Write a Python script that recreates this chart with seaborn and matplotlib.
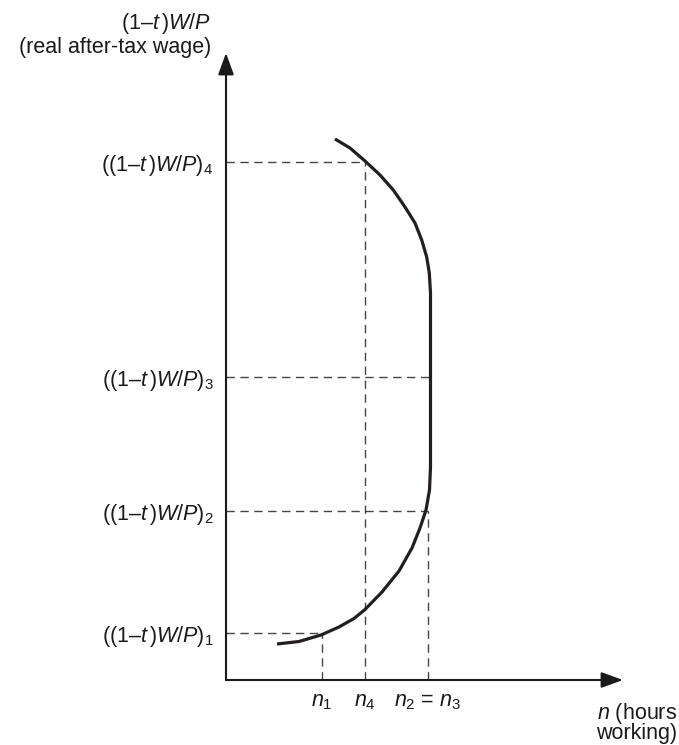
import numpy as np
import matplotlib.pyplot as plt
import seaborn as sns

sns.set_theme(style='white')
plt.rcParams['font.family'] = ['Liberation Sans', 'DejaVu Sans']
plt.rcParams['mathtext.fontset'] = 'custom'
plt.rcParams['mathtext.rm'] = 'Liberation Sans'
plt.rcParams['mathtext.it'] = 'Liberation Sans:italic'

#::: data (arbitrary units)
# labour supply curve: hours n vs real after-tax wage w
curve_n = [5.1, 7.3, 9.5, 11.3, 12.8, 13.9, 15.6, 17.3, 18.6, 19.4, 20.0, 20.35, 20.45,
           20.45, 20.33, 20.07, 19.57, 18.9, 17.9, 16.73, 15.4, 13.9, 12.4, 10.9]
curve_w = [3.6, 3.85, 4.5, 5.3, 6.15, 7.05, 8.8, 10.9, 13.2, 15.2, 17.0, 19.0, 21.3,
           38.7, 40.7, 42.3, 44.0, 45.7, 47.3, 49.0, 50.5, 51.9, 53.2, 54.1]

# marked points 1..4
point_n = [9.6, 20.2, 20.45, 13.9]
point_w = [4.7, 16.9, 30.3, 51.8]
wage_labels = [r'((1–$t\,$)$W/P$)$_1$', r'((1–$t\,$)$W/P$)$_2$',
               r'((1–$t\,$)$W/P$)$_3$', r'((1–$t\,$)$W/P$)$_4$']
hour_ticks = [9.6, 13.9, 20.2]
hour_labels = [r'$n_1$', r'$n_4$', r'$n_2$ = $n_3$']

FS = 15.5
INK = '#1a1a1a'

#::: figure
fig = plt.figure(figsize=(6.79, 7.45), dpi=100)
ax = fig.add_axes([226 / 679, 65 / 745, 397 / 679, 627 / 745])
ax.set_xlim(0, 39.7)
ax.set_ylim(0, 62.7)
for s in ax.spines.values():
    s.set_visible(False)

dash_kw = dict(color='#444444', lw=1.0, linestyles=(0, (6, 4)))
ax.hlines(point_w, 0, point_n, **dash_kw)
# point 3 sits on the vertical part of the curve (n3 = n2), no own drop line
drop = [0, 1, 3]
ax.vlines([point_n[i] for i in drop], 0, [point_w[i] for i in drop], **dash_kw)

sns.lineplot(x=curve_n, y=curve_w, sort=False, estimator=None, ax=ax,
             color='#231f20', lw=2.3, solid_capstyle='butt', solid_joinstyle='round')

# axes with arrows
arrow_kw = dict(arrowstyle='-|>,head_length=1.1,head_width=0.4', lw=1.5,
                color=INK, shrinkA=0, shrinkB=0)
ax.annotate('', xy=(1, 0), xytext=(0, 0), xycoords='axes fraction', arrowprops=arrow_kw)
ax.annotate('', xy=(0, 1), xytext=(0, 0), xycoords='axes fraction', arrowprops=arrow_kw)

ax.set_yticks(point_w, wage_labels, fontsize=FS)
ax.set_xticks(hour_ticks, hour_labels, fontsize=FS)
ax.tick_params(axis='both', length=0, colors=INK)
ax.tick_params(axis='y', pad=9)
ax.tick_params(axis='x', pad=8)

fig.text(211 / 679, 1 - 23 / 745, r'(1–$t\,$)$W/P$', ha='right', va='center',
         fontsize=FS, color=INK)
fig.text(211 / 679, 1 - 48 / 745, '(real after-tax wage)', ha='right', va='center',
         fontsize=FS, color=INK)
fig.text(677 / 679, 1 - 713 / 745, '$n$ (hours', ha='right', va='center',
         fontsize=FS, color=INK)
fig.text(677 / 679, 1 - 734 / 745, 'working)', ha='right', va='center',
         fontsize=FS, color=INK)

plt.savefig('out.png', dpi=100)
